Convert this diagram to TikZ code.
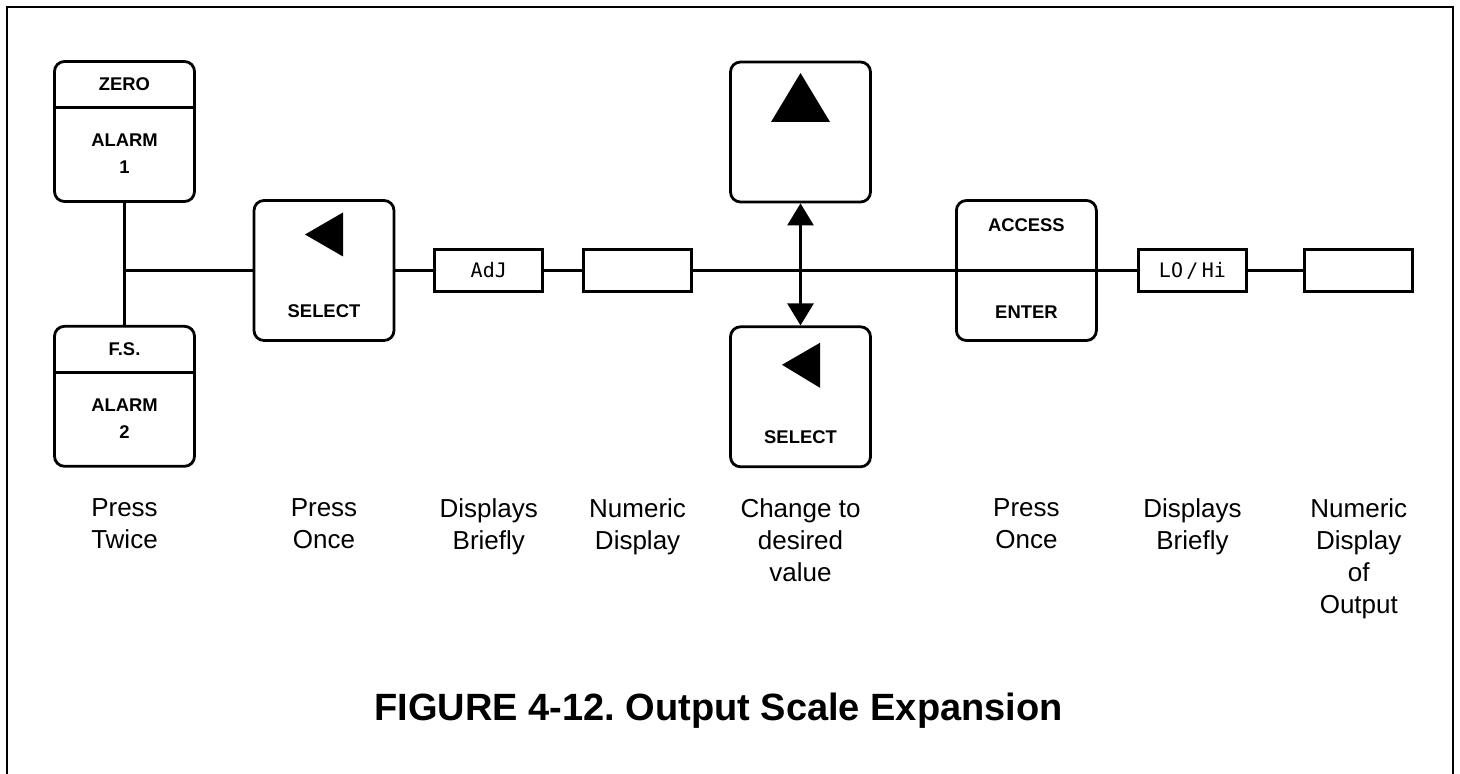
\documentclass[tikz,border=0pt]{standalone}
\usepackage{fontspec}
\setmainfont{Liberation Sans}
\newfontfamily\lcdfont{DejaVu Sans Mono}
\usetikzlibrary{positioning,arrows.meta,calc}
\frenchspacing

\begin{document}
\begin{tikzpicture}[
  x=0.5pt, y=-0.5pt,
  every node/.style={align=center},
  key/.style={draw, line width=1.4pt, rounded corners=5pt, minimum width=70pt, minimum height=70pt, inner sep=0pt},
  lcd/.style={draw, line width=1.4pt, minimum width=54pt, minimum height=21pt, inner sep=0pt, font=\lcdfont\fontsize{10}{12}\selectfont},
  keytxt/.style={inner sep=0pt, font=\bfseries\fontsize{9.2}{13.5}\selectfont},
  note/.style={inner sep=0pt, anchor=north, font=\fontsize{13}{16}\selectfont},
  wire/.style={line width=1.4pt},
  dbl/.style={line width=1.4pt, >={Triangle[length=11pt,width=13pt]}, <->},
  frame/.style={line width=1pt}
]
  \useasboundingbox (0,0) rectangle (1460,774);
  \draw[frame] (7,774) |- (1453,7) -- (1453,774);

  \node[key] (zero) at (124.5,131.5) {};
  \node[key, below=61pt of zero] (fs) {};
  \node[key] (sel1) at (324,270.5) {};
  \node[lcd, right=19pt of sel1] (adj) {AdJ};
  \node[lcd, right=19pt of adj] (num1) {};
  \node[key] (up) at (800.5,132) {};
  \node[key, below=61pt of up] (sel2) {};
  \node[key, right=131pt of num1] (access) {};
  \node[lcd, right=19.6pt of access] (lohi) {LO\,/\,Hi};
  \node[lcd, right=27.8pt of lohi] (num2) {};

  % key faces
  \node[keytxt] (zeroA) at ($(zero)+(0,-47)$) {ZERO};
  \node[keytxt] (zeroB) at ($(zero)+(0,22)$) {ALARM\\1};
  \draw[wire] ($(zero.west)+(0,-24)$) -- ($(zero.east)+(0,-24)$);
  \node[keytxt] (fsA) at ($(fs)+(0,-47)$) {F.S.};
  \node[keytxt] (fsB) at ($(fs)+(0,22)$) {ALARM\\2};
  \draw[wire] ($(fs.west)+(0,-24)$) -- ($(fs.east)+(0,-24)$);
  \fill ($(sel1)+(-19,-36)$) -- ($(sel1)+(19,-58)$) -- ($(sel1)+(19,-14)$) -- cycle;
  \node[keytxt] (sel1A) at ($(sel1)+(0,41)$) {SELECT};
  \fill ($(up)+(0,-59)$) -- ($(up)+(29.5,-10)$) -- ($(up)+(-29.5,-10)$) -- cycle;
  \fill ($(sel2)+(-18.5,-32)$) -- ($(sel2)+(19.5,-54)$) -- ($(sel2)+(19.5,-9)$) -- cycle;
  \node[keytxt] (sel2A) at ($(sel2)+(0,40)$) {SELECT};
  \node[keytxt] (accessA) at ($(access)+(0,-45.5)$) {ACCESS};
  \node[keytxt] (accessB) at ($(access)+(0,41.5)$) {ENTER};

  \coordinate (jn) at (zero |- sel1);
  \draw[wire] (zero) -- (fs);
  \draw[wire] (jn) -- (sel1);
  \draw[wire] (sel1) -- (adj);
  \draw[wire] (adj) -- (num1);
  \draw[wire] (num1) -- (lohi);
  \draw[wire] (lohi) -- (num2);
  \draw[dbl] (up) -- (sel2);

  \coordinate (capline) at (0,498);
  \node[note] (capZero) at (zero |- capline) {Press\\Twice};
  \node[note] (capSel) at (sel1 |- capline) {Press\\Once};
  \node[note] (capAdj) at (adj |- capline) {Displays\\Briefly};
  \node[note] (capNum) at (num1 |- capline) {Numeric\\Display};
  \node[note] (capChg) at (sel2 |- capline) {Change to\\desired\\value};
  \node[note] (capAcc) at (access |- capline) {Press\\Once};
  \node[note] (capLoHi) at (lohi |- capline) {Displays\\Briefly};
  \node[note] (capOut) at (num2 |- capline) {Numeric\\Display\\of\\Output};

  \node[inner sep=0pt, anchor=base, font=\bfseries\fontsize{19}{23}\selectfont] (title) at (718.5,720.5) {FIGURE 4-12. Output Scale Expansion};
\end{tikzpicture}
\end{document}
